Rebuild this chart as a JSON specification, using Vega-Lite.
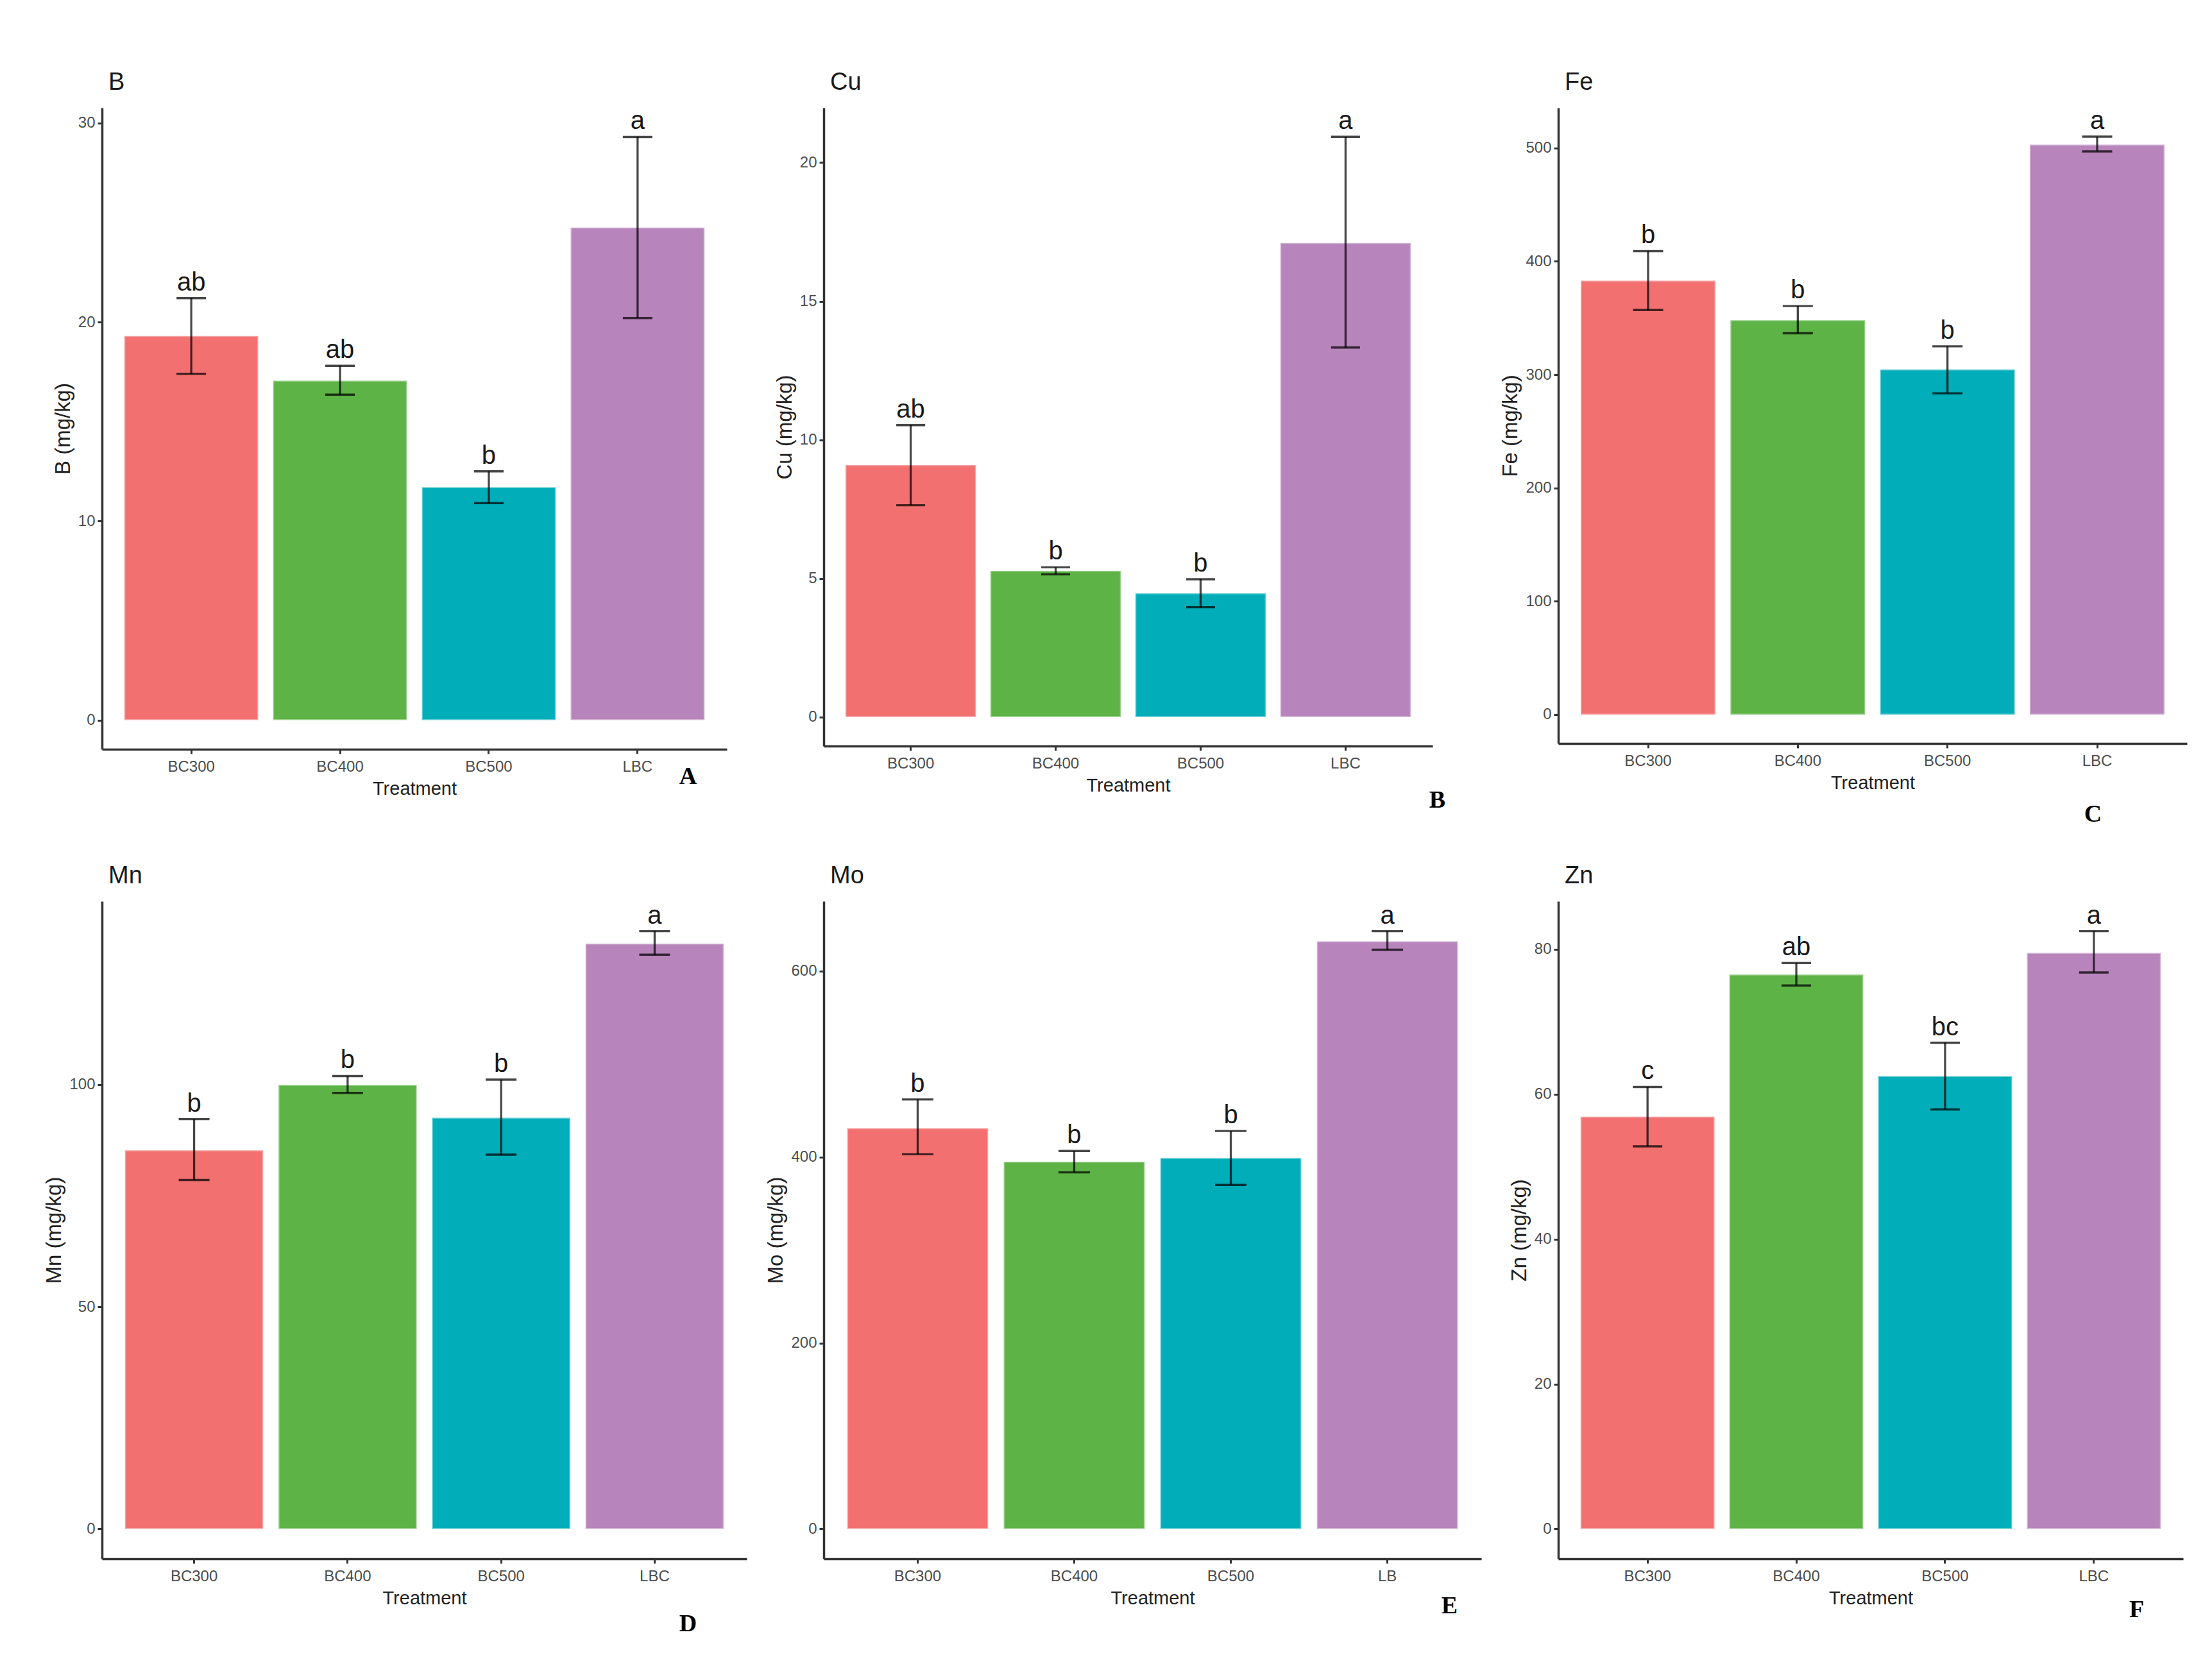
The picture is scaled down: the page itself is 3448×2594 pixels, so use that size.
{
  "$schema": "https://vega.github.io/schema/vega-lite/v6.json",
  "background": "white",
  "padding": {"left": 68, "top": 110, "right": 20, "bottom": 20},
  "datasets": {
    "d": [
      {"el": "B", "trt": "BC300", "mean": 19.3, "lo": 17.4, "hi": 21.2, "sig": "ab"},
      {"el": "B", "trt": "BC400", "mean": 17.05, "lo": 16.35, "hi": 17.8, "sig": "ab"},
      {"el": "B", "trt": "BC500", "mean": 11.7, "lo": 10.9, "hi": 12.5, "sig": "b"},
      {"el": "B", "trt": "LBC", "mean": 24.75, "lo": 20.2, "hi": 29.3, "sig": "a"},
      {"el": "Cu", "trt": "BC300", "mean": 9.09, "lo": 7.64, "hi": 10.53, "sig": "ab"},
      {"el": "Cu", "trt": "BC400", "mean": 5.27, "lo": 5.15, "hi": 5.4, "sig": "b"},
      {"el": "Cu", "trt": "BC500", "mean": 4.46, "lo": 3.96, "hi": 4.97, "sig": "b"},
      {"el": "Cu", "trt": "LBC", "mean": 17.1, "lo": 13.33, "hi": 20.93, "sig": "a"},
      {"el": "Fe", "trt": "BC300", "mean": 383, "lo": 357, "hi": 409, "sig": "b"},
      {"el": "Fe", "trt": "BC400", "mean": 348, "lo": 336.5, "hi": 360.5, "sig": "b"},
      {"el": "Fe", "trt": "BC500", "mean": 304.5, "lo": 283.5, "hi": 325, "sig": "b"},
      {"el": "Fe", "trt": "LBC", "mean": 503, "lo": 497, "hi": 510, "sig": "a"},
      {"el": "Mn", "trt": "BC300", "mean": 85.2, "lo": 78.5, "hi": 92.2, "sig": "b"},
      {"el": "Mn", "trt": "BC400", "mean": 99.9, "lo": 98.1, "hi": 101.9, "sig": "b"},
      {"el": "Mn", "trt": "BC500", "mean": 92.5, "lo": 84.2, "hi": 101.1, "sig": "b"},
      {"el": "Mn", "trt": "LBC", "mean": 131.7, "lo": 129.2, "hi": 134.5, "sig": "a"},
      {"el": "Mo", "trt": "BC300", "mean": 431, "lo": 403, "hi": 462, "sig": "b"},
      {"el": "Mo", "trt": "BC400", "mean": 395, "lo": 383.5, "hi": 406.5, "sig": "b"},
      {"el": "Mo", "trt": "BC500", "mean": 399, "lo": 370, "hi": 428, "sig": "b"},
      {"el": "Mo", "trt": "LBC", "mean": 632, "lo": 623, "hi": 643, "sig": "a"},
      {"el": "Zn", "trt": "BC300", "mean": 56.9, "lo": 52.8, "hi": 61.0, "sig": "c"},
      {"el": "Zn", "trt": "BC400", "mean": 76.5, "lo": 75.0, "hi": 78.1, "sig": "ab"},
      {"el": "Zn", "trt": "BC500", "mean": 62.5, "lo": 57.9, "hi": 67.1, "sig": "bc"},
      {"el": "Zn", "trt": "LBC", "mean": 79.5, "lo": 76.8, "hi": 82.5, "sig": "a"}
    ]
  },
  "data": {"name": "d"},
  "columns": 3,
  "bounds": "flush",
  "align": "each",
  "spacing": {"column": 120, "row": 237},
  "concat": [
    {
      "width": 974, "height": 1000,
      "title": {"text": "B"},
      "transform": [{"filter": "datum.el === 'B'"}],
      "resolve": {"axis": {"x": "independent"}},
      "layer": [
        {"mark": {"type": "bar", "stroke": "white", "strokeOpacity": 0.35, "strokeWidth": 3},
         "encoding": {
           "x": {"field": "trt", "type": "nominal", "sort": null, "scale": {"paddingInner": 0.1, "paddingOuter": 0.15}, "axis": {"title": "Treatment"}},
           "y": {"field": "mean", "type": "quantitative", "scale": {"domain": [-1.465, 30.765], "nice": false, "zero": false}, "axis": {"title": "B (mg/kg)", "values": [0, 10, 20, 30]}},
           "color": {"field": "trt", "type": "nominal", "scale": {"domain": ["BC300", "BC400", "BC500", "LBC"], "range": ["#F27170", "#5DB345", "#00ADB8", "#B784BB"]}, "legend": null}}},
        {"mark": {"type": "rule", "color": "black", "opacity": 0.72, "strokeWidth": 3.3},
         "encoding": {
           "x": {"field": "trt", "type": "nominal", "sort": null, "axis": null},
           "y": {"field": "lo", "type": "quantitative", "title": "B (mg/kg)", "scale": {"domain": [-1.465, 30.765], "nice": false, "zero": false}},
           "y2": {"field": "hi"}}},
        {"mark": {"type": "tick", "color": "black", "opacity": 0.72, "size": 46, "thickness": 3.4},
         "encoding": {
           "x": {"field": "trt", "type": "nominal", "sort": null, "axis": null},
           "y": {"field": "lo", "type": "quantitative", "title": "B (mg/kg)", "scale": {"domain": [-1.465, 30.765], "nice": false, "zero": false}}}},
        {"mark": {"type": "tick", "color": "black", "opacity": 0.72, "size": 46, "thickness": 3.4},
         "encoding": {
           "x": {"field": "trt", "type": "nominal", "sort": null, "axis": null},
           "y": {"field": "hi", "type": "quantitative", "title": "B (mg/kg)", "scale": {"domain": [-1.465, 30.765], "nice": false, "zero": false}}}},
        {"mark": {"type": "text", "baseline": "bottom", "dy": -4, "fontSize": 40, "color": "#1a1a1a"},
         "encoding": {
           "x": {"field": "trt", "type": "nominal", "sort": null, "axis": {"orient": "bottom", "domain": false, "ticks": false, "labels": false, "title": "A", "titleFont": "Liberation Serif", "titleFontWeight": "bold", "titleFontSize": 38, "titleColor": "black", "titleX": 913, "titleY": 42, "titleAlign": "center", "titleBaseline": "middle"}},
           "y": {"field": "hi", "type": "quantitative", "title": "B (mg/kg)", "scale": {"domain": [-1.465, 30.765], "nice": false, "zero": false}},
           "text": {"field": "sig"}}}
      ]
    },
    {
      "width": 949, "height": 995,
      "title": {"text": "Cu"},
      "transform": [{"filter": "datum.el === 'Cu'"}],
      "resolve": {"axis": {"x": "independent"}},
      "layer": [
        {"mark": {"type": "bar", "stroke": "white", "strokeOpacity": 0.35, "strokeWidth": 3},
         "encoding": {
           "x": {"field": "trt", "type": "nominal", "sort": null, "scale": {"paddingInner": 0.1, "paddingOuter": 0.15}, "axis": {"title": "Treatment"}},
           "y": {"field": "mean", "type": "quantitative", "scale": {"domain": [-1.0465, 21.9765], "nice": false, "zero": false}, "axis": {"title": "Cu (mg/kg)", "values": [0, 5, 10, 15, 20]}},
           "color": {"field": "trt", "type": "nominal", "scale": {"domain": ["BC300", "BC400", "BC500", "LBC"], "range": ["#F27170", "#5DB345", "#00ADB8", "#B784BB"]}, "legend": null}}},
        {"mark": {"type": "rule", "color": "black", "opacity": 0.72, "strokeWidth": 3.3},
         "encoding": {
           "x": {"field": "trt", "type": "nominal", "sort": null, "axis": null},
           "y": {"field": "lo", "type": "quantitative", "title": "Cu (mg/kg)", "scale": {"domain": [-1.0465, 21.9765], "nice": false, "zero": false}},
           "y2": {"field": "hi"}}},
        {"mark": {"type": "tick", "color": "black", "opacity": 0.72, "size": 45, "thickness": 3.4},
         "encoding": {
           "x": {"field": "trt", "type": "nominal", "sort": null, "axis": null},
           "y": {"field": "lo", "type": "quantitative", "title": "Cu (mg/kg)", "scale": {"domain": [-1.0465, 21.9765], "nice": false, "zero": false}}}},
        {"mark": {"type": "tick", "color": "black", "opacity": 0.72, "size": 45, "thickness": 3.4},
         "encoding": {
           "x": {"field": "trt", "type": "nominal", "sort": null, "axis": null},
           "y": {"field": "hi", "type": "quantitative", "title": "Cu (mg/kg)", "scale": {"domain": [-1.0465, 21.9765], "nice": false, "zero": false}}}},
        {"mark": {"type": "text", "baseline": "bottom", "dy": -4, "fontSize": 40, "color": "#1a1a1a"},
         "encoding": {
           "x": {"field": "trt", "type": "nominal", "sort": null, "axis": {"orient": "bottom", "domain": false, "ticks": false, "labels": false, "title": "B", "titleFont": "Liberation Serif", "titleFontWeight": "bold", "titleFontSize": 38, "titleColor": "black", "titleX": 956, "titleY": 84, "titleAlign": "center", "titleBaseline": "middle"}},
           "y": {"field": "hi", "type": "quantitative", "title": "Cu (mg/kg)", "scale": {"domain": [-1.0465, 21.9765], "nice": false, "zero": false}},
           "text": {"field": "sig"}}}
      ]
    },
    {
      "width": 980, "height": 991,
      "title": {"text": "Fe"},
      "transform": [{"filter": "datum.el === 'Fe'"}],
      "resolve": {"axis": {"x": "independent"}},
      "layer": [
        {"mark": {"type": "bar", "stroke": "white", "strokeOpacity": 0.35, "strokeWidth": 3},
         "encoding": {
           "x": {"field": "trt", "type": "nominal", "sort": null, "scale": {"paddingInner": 0.1, "paddingOuter": 0.15}, "axis": {"title": "Treatment"}},
           "y": {"field": "mean", "type": "quantitative", "scale": {"domain": [-25.5, 535.5], "nice": false, "zero": false}, "axis": {"title": "Fe (mg/kg)", "values": [0, 100, 200, 300, 400, 500]}},
           "color": {"field": "trt", "type": "nominal", "scale": {"domain": ["BC300", "BC400", "BC500", "LBC"], "range": ["#F27170", "#5DB345", "#00ADB8", "#B784BB"]}, "legend": null}}},
        {"mark": {"type": "rule", "color": "black", "opacity": 0.72, "strokeWidth": 3.3},
         "encoding": {
           "x": {"field": "trt", "type": "nominal", "sort": null, "axis": null},
           "y": {"field": "lo", "type": "quantitative", "title": "Fe (mg/kg)", "scale": {"domain": [-25.5, 535.5], "nice": false, "zero": false}},
           "y2": {"field": "hi"}}},
        {"mark": {"type": "tick", "color": "black", "opacity": 0.72, "size": 47, "thickness": 3.4},
         "encoding": {
           "x": {"field": "trt", "type": "nominal", "sort": null, "axis": null},
           "y": {"field": "lo", "type": "quantitative", "title": "Fe (mg/kg)", "scale": {"domain": [-25.5, 535.5], "nice": false, "zero": false}}}},
        {"mark": {"type": "tick", "color": "black", "opacity": 0.72, "size": 47, "thickness": 3.4},
         "encoding": {
           "x": {"field": "trt", "type": "nominal", "sort": null, "axis": null},
           "y": {"field": "hi", "type": "quantitative", "title": "Fe (mg/kg)", "scale": {"domain": [-25.5, 535.5], "nice": false, "zero": false}}}},
        {"mark": {"type": "text", "baseline": "bottom", "dy": -4, "fontSize": 40, "color": "#1a1a1a"},
         "encoding": {
           "x": {"field": "trt", "type": "nominal", "sort": null, "axis": {"orient": "bottom", "domain": false, "ticks": false, "labels": false, "title": "C", "titleFont": "Liberation Serif", "titleFontWeight": "bold", "titleFontSize": 38, "titleColor": "black", "titleX": 833, "titleY": 110, "titleAlign": "center", "titleBaseline": "middle"}},
           "y": {"field": "hi", "type": "quantitative", "title": "Fe (mg/kg)", "scale": {"domain": [-25.5, 535.5], "nice": false, "zero": false}},
           "text": {"field": "sig"}}}
      ]
    },
    {
      "width": 1005, "height": 1025,
      "title": {"text": "Mn"},
      "transform": [{"filter": "datum.el === 'Mn'"}],
      "resolve": {"axis": {"x": "independent"}},
      "layer": [
        {"mark": {"type": "bar", "stroke": "white", "strokeOpacity": 0.35, "strokeWidth": 3},
         "encoding": {
           "x": {"field": "trt", "type": "nominal", "sort": null, "scale": {"paddingInner": 0.1, "paddingOuter": 0.15}, "axis": {"title": "Treatment"}},
           "y": {"field": "mean", "type": "quantitative", "scale": {"domain": [-6.725, 141.225], "nice": false, "zero": false}, "axis": {"title": "Mn (mg/kg)", "values": [0, 50, 100]}},
           "color": {"field": "trt", "type": "nominal", "scale": {"domain": ["BC300", "BC400", "BC500", "LBC"], "range": ["#F27170", "#5DB345", "#00ADB8", "#B784BB"]}, "legend": null}}},
        {"mark": {"type": "rule", "color": "black", "opacity": 0.72, "strokeWidth": 3.3},
         "encoding": {
           "x": {"field": "trt", "type": "nominal", "sort": null, "axis": null},
           "y": {"field": "lo", "type": "quantitative", "title": "Mn (mg/kg)", "scale": {"domain": [-6.725, 141.225], "nice": false, "zero": false}},
           "y2": {"field": "hi"}}},
        {"mark": {"type": "tick", "color": "black", "opacity": 0.72, "size": 48, "thickness": 3.4},
         "encoding": {
           "x": {"field": "trt", "type": "nominal", "sort": null, "axis": null},
           "y": {"field": "lo", "type": "quantitative", "title": "Mn (mg/kg)", "scale": {"domain": [-6.725, 141.225], "nice": false, "zero": false}}}},
        {"mark": {"type": "tick", "color": "black", "opacity": 0.72, "size": 48, "thickness": 3.4},
         "encoding": {
           "x": {"field": "trt", "type": "nominal", "sort": null, "axis": null},
           "y": {"field": "hi", "type": "quantitative", "title": "Mn (mg/kg)", "scale": {"domain": [-6.725, 141.225], "nice": false, "zero": false}}}},
        {"mark": {"type": "text", "baseline": "bottom", "dy": -4, "fontSize": 40, "color": "#1a1a1a"},
         "encoding": {
           "x": {"field": "trt", "type": "nominal", "sort": null, "axis": {"orient": "bottom", "domain": false, "ticks": false, "labels": false, "title": "D", "titleFont": "Liberation Serif", "titleFontWeight": "bold", "titleFontSize": 38, "titleColor": "black", "titleX": 913, "titleY": 101, "titleAlign": "center", "titleBaseline": "middle"}},
           "y": {"field": "hi", "type": "quantitative", "title": "Mn (mg/kg)", "scale": {"domain": [-6.725, 141.225], "nice": false, "zero": false}},
           "text": {"field": "sig"}}}
      ]
    },
    {
      "width": 1025, "height": 1025,
      "title": {"text": "Mo"},
      "transform": [{"filter": "datum.el === 'Mo'"}],
      "resolve": {"axis": {"x": "independent"}},
      "layer": [
        {"mark": {"type": "bar", "stroke": "white", "strokeOpacity": 0.35, "strokeWidth": 3},
         "encoding": {
           "x": {"field": "trt", "type": "nominal", "sort": null, "scale": {"paddingInner": 0.1, "paddingOuter": 0.15}, "axis": {"title": "Treatment", "labelExpr": "datum.label === 'LBC' ? 'LB' : datum.label"}},
           "y": {"field": "mean", "type": "quantitative", "scale": {"domain": [-32.15, 675.15], "nice": false, "zero": false}, "axis": {"title": "Mo (mg/kg)", "values": [0, 200, 400, 600]}},
           "color": {"field": "trt", "type": "nominal", "scale": {"domain": ["BC300", "BC400", "BC500", "LBC"], "range": ["#F27170", "#5DB345", "#00ADB8", "#B784BB"]}, "legend": null}}},
        {"mark": {"type": "rule", "color": "black", "opacity": 0.72, "strokeWidth": 3.3},
         "encoding": {
           "x": {"field": "trt", "type": "nominal", "sort": null, "axis": null},
           "y": {"field": "lo", "type": "quantitative", "title": "Mo (mg/kg)", "scale": {"domain": [-32.15, 675.15], "nice": false, "zero": false}},
           "y2": {"field": "hi"}}},
        {"mark": {"type": "tick", "color": "black", "opacity": 0.72, "size": 49, "thickness": 3.4},
         "encoding": {
           "x": {"field": "trt", "type": "nominal", "sort": null, "axis": null},
           "y": {"field": "lo", "type": "quantitative", "title": "Mo (mg/kg)", "scale": {"domain": [-32.15, 675.15], "nice": false, "zero": false}}}},
        {"mark": {"type": "tick", "color": "black", "opacity": 0.72, "size": 49, "thickness": 3.4},
         "encoding": {
           "x": {"field": "trt", "type": "nominal", "sort": null, "axis": null},
           "y": {"field": "hi", "type": "quantitative", "title": "Mo (mg/kg)", "scale": {"domain": [-32.15, 675.15], "nice": false, "zero": false}}}},
        {"mark": {"type": "text", "baseline": "bottom", "dy": -4, "fontSize": 40, "color": "#1a1a1a"},
         "encoding": {
           "x": {"field": "trt", "type": "nominal", "sort": null, "axis": {"orient": "bottom", "domain": false, "ticks": false, "labels": false, "title": "E", "titleFont": "Liberation Serif", "titleFontWeight": "bold", "titleFontSize": 38, "titleColor": "black", "titleX": 975, "titleY": 73, "titleAlign": "center", "titleBaseline": "middle"}},
           "y": {"field": "hi", "type": "quantitative", "title": "Mo (mg/kg)", "scale": {"domain": [-32.15, 675.15], "nice": false, "zero": false}},
           "text": {"field": "sig"}}}
      ]
    },
    {
      "width": 974, "height": 1025,
      "title": {"text": "Zn"},
      "transform": [{"filter": "datum.el === 'Zn'"}],
      "resolve": {"axis": {"x": "independent"}},
      "layer": [
        {"mark": {"type": "bar", "stroke": "white", "strokeOpacity": 0.35, "strokeWidth": 3},
         "encoding": {
           "x": {"field": "trt", "type": "nominal", "sort": null, "scale": {"paddingInner": 0.1, "paddingOuter": 0.15}, "axis": {"title": "Treatment"}},
           "y": {"field": "mean", "type": "quantitative", "scale": {"domain": [-4.125, 86.625], "nice": false, "zero": false}, "axis": {"title": "Zn (mg/kg)", "values": [0, 20, 40, 60, 80]}},
           "color": {"field": "trt", "type": "nominal", "scale": {"domain": ["BC300", "BC400", "BC500", "LBC"], "range": ["#F27170", "#5DB345", "#00ADB8", "#B784BB"]}, "legend": null}}},
        {"mark": {"type": "rule", "color": "black", "opacity": 0.72, "strokeWidth": 3.3},
         "encoding": {
           "x": {"field": "trt", "type": "nominal", "sort": null, "axis": null},
           "y": {"field": "lo", "type": "quantitative", "title": "Zn (mg/kg)", "scale": {"domain": [-4.125, 86.625], "nice": false, "zero": false}},
           "y2": {"field": "hi"}}},
        {"mark": {"type": "tick", "color": "black", "opacity": 0.72, "size": 46, "thickness": 3.4},
         "encoding": {
           "x": {"field": "trt", "type": "nominal", "sort": null, "axis": null},
           "y": {"field": "lo", "type": "quantitative", "title": "Zn (mg/kg)", "scale": {"domain": [-4.125, 86.625], "nice": false, "zero": false}}}},
        {"mark": {"type": "tick", "color": "black", "opacity": 0.72, "size": 46, "thickness": 3.4},
         "encoding": {
           "x": {"field": "trt", "type": "nominal", "sort": null, "axis": null},
           "y": {"field": "hi", "type": "quantitative", "title": "Zn (mg/kg)", "scale": {"domain": [-4.125, 86.625], "nice": false, "zero": false}}}},
        {"mark": {"type": "text", "baseline": "bottom", "dy": -4, "fontSize": 40, "color": "#1a1a1a"},
         "encoding": {
           "x": {"field": "trt", "type": "nominal", "sort": null, "axis": {"orient": "bottom", "domain": false, "ticks": false, "labels": false, "title": "F", "titleFont": "Liberation Serif", "titleFontWeight": "bold", "titleFontSize": 38, "titleColor": "black", "titleX": 901, "titleY": 79, "titleAlign": "center", "titleBaseline": "middle"}},
           "y": {"field": "hi", "type": "quantitative", "title": "Zn (mg/kg)", "scale": {"domain": [-4.125, 86.625], "nice": false, "zero": false}},
           "text": {"field": "sig"}}}
      ]
    }
  ],
  "config": {
    "view": {"stroke": null},
    "font": "Liberation Sans Narrow, Liberation Sans, sans-serif",
    "text": {"font": "Liberation Sans Narrow, Liberation Sans, sans-serif"},
    "title": {"anchor": "start", "frame": "group", "offset": 20, "dx": 10, "fontSize": 38, "fontWeight": "normal", "color": "#1a1a1a", "font": "Liberation Sans Narrow, Liberation Sans, sans-serif"},
    "axis": {
      "grid": false,
      "domainColor": "#333333", "domainWidth": 3.5,
      "tickColor": "#333333", "tickWidth": 3, "tickSize": 7,
      "labelFont": "Liberation Sans Narrow, Liberation Sans, sans-serif", "labelFontSize": 24, "labelColor": "#4d4d4d",
      "titleFont": "Liberation Sans Narrow, Liberation Sans, sans-serif", "titleFontWeight": "normal", "titleColor": "#222222"
    },
    "axisX": {"labelAngle": 0, "labelPadding": 8, "titlePadding": 8, "titleFontSize": 29},
    "axisY": {"labelPadding": 4, "titlePadding": 6, "titleFontSize": 33, "titleFont": "Liberation Sans, sans-serif"}
  }
}
